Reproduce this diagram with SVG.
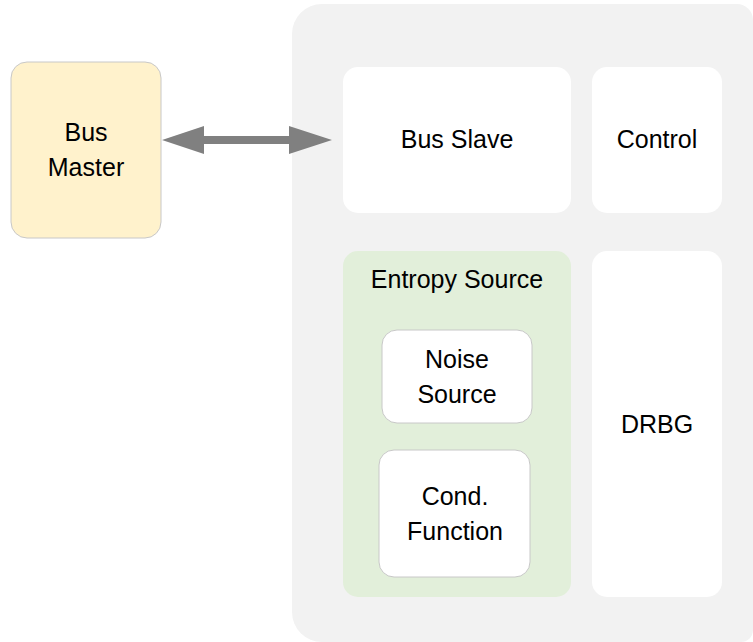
<svg xmlns="http://www.w3.org/2000/svg" width="753" height="642" viewBox="0 0 753 642">
<style>
text{font-family:"Liberation Sans",Arial,sans-serif;font-size:25px;fill:#000;text-anchor:middle}
.w{fill:#fff}
.b{stroke:#c8c8c8;stroke-width:1}
</style>
<rect width="753" height="642" fill="#fff"/>
<g id="container"><path d="M322,4 H737 A16,16 0 0 1 753,20 V630 A12,12 0 0 1 741,642 H322 A30,30 0 0 1 292,612 V34 A30,30 0 0 1 322,4 Z" fill="#f2f2f2"/></g>
<g id="bus-master"><rect x="11" y="62" width="150" height="176" rx="16" fill="#fff2cc" class="b"/><text x="86" y="141">Bus</text><text x="86" y="176">Master</text></g>
<g id="bus-slave"><rect x="343" y="67" width="228" height="146" rx="15" class="w"/><text x="457" y="148">Bus Slave</text></g>
<g id="control"><rect x="592" y="67" width="130" height="146" rx="15" class="w"/><text x="657" y="148">Control</text></g>
<g id="entropy-source"><rect x="343" y="251" width="228" height="346" rx="15" fill="#e2efda"/><text x="457" y="288">Entropy Source</text></g>
<g id="noise-source"><rect x="382" y="330" width="150" height="93" rx="15" class="w b"/><text x="457" y="368">Noise</text><text x="457" y="403">Source</text></g>
<g id="cond-function"><rect x="379" y="450" width="151" height="127" rx="15" class="w b"/><text x="455" y="505">Cond.</text><text x="455" y="540">Function</text></g>
<g id="drbg"><rect x="592" y="251" width="130" height="346" rx="15" class="w"/><text x="657" y="433">DRBG</text></g>
<g id="connectors"><polygon points="162,140 204,126 204,136 289,136 289,126 332,140 289,154 289,144 204,144 204,154" fill="#808080"/></g>
</svg>
